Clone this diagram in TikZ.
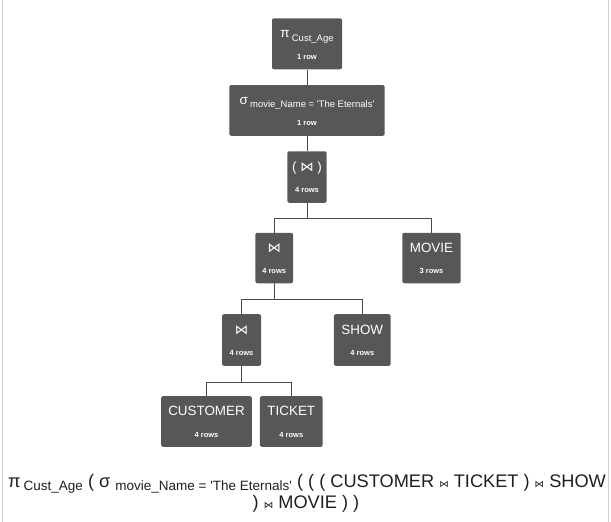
\documentclass[tikz,border=0pt]{standalone}
\usepackage{fontspec}
\setmainfont{Liberation Sans}
\newfontfamily\symfont{DejaVu Sans}
\usetikzlibrary{calc}
\definecolor{boxgray}{HTML}{575757}
\definecolor{linkgray}{HTML}{4A4A4A}
\definecolor{framegray}{HTML}{D0D0D0}
\def\jn{{\symfont\char"22C8}}
\def\sq{\textquotesingle}
\def\opbox(#1)(#2)(#3:#4)#5#6{%
\node[opbox, minimum width=#3pt, minimum height=#4pt] (#1) at (#2) {};
\node[nametext] (#1-name) at ($(#1.center)+(0,-6)$) {#5};
\node[rowtext] (#1-rows) at ($(#1.center)+(0,15.5)$) {#6};}
\tikzset{
  opbox/.style={fill=boxgray, rounded corners=2pt, inner sep=0pt},
  nametext/.style={anchor=base, text=white, inner sep=0pt, font=\fontsize{13.4}{15}\selectfont},
  rowtext/.style={anchor=base, text=white, inner sep=0pt, font=\fontsize{7.5}{9}\selectfont\bfseries},
  link/.style={draw=linkgray, line width=0.9pt},
  formula/.style={anchor=base, text=black!88, inner sep=0pt, font=\fontsize{18.2}{21}\selectfont}
}
\begin{document}
\begin{tikzpicture}[x=1pt, y=-1pt]
			%%%%% START %%%%%
			\useasboundingbox (0, 0) rectangle (611, 522);
			
			\draw[framegray, line width=1pt] (2.5, 0) -- (2.5, 522);
			\draw[framegray, line width=1pt] (608.5, 0) -- (608.5, 522);
			
			\opbox(proj)(307, 43.8)(70:51){π\,\raisebox{-4pt}{\fontsize{9.5}{11}\selectfont Cust\_Age}}{1 row}
			\opbox(sel)(307, 110.4)(155.4:50.7){σ\,\raisebox{-3pt}{\fontsize{9.5}{11}\selectfont movie\_Name = \sq The Eternals\sq}}{1 row}
			\opbox(join)(307, 177)(39.4:51.5){( \jn\ )}{4 rows}
			
			\opbox(joinA)(274.2, 258)(37.7:50.5){\jn}{4 rows}
			\opbox(movie)(431.5, 258)(58.4:50.5){MOVIE}{3 rows}
			
			\opbox(joinB)(241.5, 340)(39:51.7){\jn}{4 rows}
			\opbox(show)(362.3, 340)(56.7:51.7){SHOW}{4 rows}
			
			\opbox(customer)(206.5, 421.5)(90.7:50.7){CUSTOMER}{4 rows}
			\opbox(ticket)(291.3, 421.5)(62.7:50.7){TICKET}{4 rows}
			
			\draw[link] (proj.south) -- (sel.north);
			\draw[link] (sel.south) -- (join.north);
			\draw[link] (join.south) -- ++(0, 15.5) -| (joinA.north);
			\draw[link] (join.south) -- ++(0, 15.5) -| (movie.north);
			\draw[link] (joinA.south) -- ++(0, 16) -| (joinB.north);
			\draw[link] (joinA.south) -- ++(0, 16) -| (show.north);
			\draw[link] (joinB.south) -- ++(0, 16) -| (customer.north);
			\draw[link] (joinB.south) -- ++(0, 16) -| (ticket.north);
			
			\node[formula] (expr-a) at (307, 487) {π\,\raisebox{-3.5pt}{\fontsize{13.5}{15}\selectfont Cust\_Age} ( σ \raisebox{-3.5pt}{\fontsize{13.5}{15}\selectfont movie\_Name = \sq The Eternals\sq} ( ( ( CUSTOMER {\fontsize{9.5}{10}\selectfont\jn} TICKET ) {\fontsize{9.5}{10}\selectfont\jn} SHOW};
			\node[formula] (expr-b) at (306, 508) {) {\fontsize{9.5}{10}\selectfont\jn} MOVIE ) )};
			
			%%%%% END %%%%%
\end{tikzpicture}
\end{document}
